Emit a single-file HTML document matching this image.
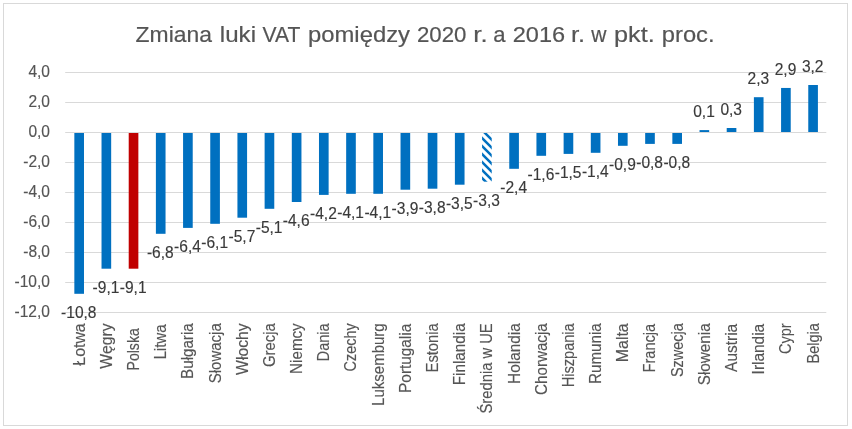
<!DOCTYPE html>
<html lang="pl"><head><meta charset="utf-8"><title>Zmiana luki VAT</title>
<style>
html,body{margin:0;padding:0;background:#fff;}
body{width:852px;height:429px;overflow:hidden;font-family:"Liberation Sans",sans-serif;}
svg{display:block;}
text{font-family:"Liberation Sans",sans-serif;}
.ax{font-size:16.0px;fill:#555;stroke:#555;stroke-width:0.15px;}
.dl{font-size:15.9px;fill:#3a3a3a;stroke:#3a3a3a;stroke-width:0.15px;}
.ay{font-size:15.9px;}
.ttl{font-size:22px;fill:#555;stroke:#555;stroke-width:0.2px;}
</style></head><body>
<svg width="852" height="429" viewBox="0 0 852 429">
<defs><pattern id="h" width="8" height="8" patternUnits="userSpaceOnUse">
<rect width="8" height="8" fill="#fff"/>
<path d="M-2,-2 L10,10 M-10,-2 L2,10 M6,-2 L18,10" stroke="#0070C0" stroke-width="2.5" fill="none"/>
</pattern></defs>
<rect x="0" y="0" width="852" height="429" fill="#fff"/>
<rect x="3.5" y="3.5" width="844" height="422" fill="#fff" stroke="#d9d9d9" stroke-width="1"/>

<line x1="65.2" x2="826.3" y1="72.5" y2="72.5" stroke="#d9d9d9" stroke-width="1"/>
<text class="ax ay" x="50" y="77.1" text-anchor="end" textLength="21.61" lengthAdjust="spacingAndGlyphs">4,0</text>
<line x1="65.2" x2="826.3" y1="102.5" y2="102.5" stroke="#d9d9d9" stroke-width="1"/>
<text class="ax ay" x="50" y="107.1" text-anchor="end" textLength="21.61" lengthAdjust="spacingAndGlyphs">2,0</text>
<line x1="65.2" x2="826.3" y1="132.5" y2="132.5" stroke="#d9d9d9" stroke-width="1"/>
<text class="ax ay" x="50" y="137.1" text-anchor="end" textLength="21.61" lengthAdjust="spacingAndGlyphs">0,0</text>
<line x1="65.2" x2="826.3" y1="162.5" y2="162.5" stroke="#d9d9d9" stroke-width="1"/>
<text class="ax ay" x="50" y="167.1" text-anchor="end" textLength="26.79" lengthAdjust="spacingAndGlyphs">-2,0</text>
<line x1="65.2" x2="826.3" y1="192.5" y2="192.5" stroke="#d9d9d9" stroke-width="1"/>
<text class="ax ay" x="50" y="197.1" text-anchor="end" textLength="26.79" lengthAdjust="spacingAndGlyphs">-4,0</text>
<line x1="65.2" x2="826.3" y1="222.5" y2="222.5" stroke="#d9d9d9" stroke-width="1"/>
<text class="ax ay" x="50" y="227.1" text-anchor="end" textLength="26.79" lengthAdjust="spacingAndGlyphs">-6,0</text>
<line x1="65.2" x2="826.3" y1="252.5" y2="252.5" stroke="#d9d9d9" stroke-width="1"/>
<text class="ax ay" x="50" y="257.1" text-anchor="end" textLength="26.79" lengthAdjust="spacingAndGlyphs">-8,0</text>
<line x1="65.2" x2="826.3" y1="282.5" y2="282.5" stroke="#d9d9d9" stroke-width="1"/>
<text class="ax ay" x="50" y="287.1" text-anchor="end" textLength="35.44" lengthAdjust="spacingAndGlyphs">-10,0</text>
<line x1="65.2" x2="826.3" y1="312.5" y2="312.5" stroke="#d9d9d9" stroke-width="1"/>
<text class="ax ay" x="50" y="317.1" text-anchor="end" textLength="35.44" lengthAdjust="spacingAndGlyphs">-12,0</text>
<text class="ttl" y="41.9"><tspan x="135.6" textLength="76.3" lengthAdjust="spacingAndGlyphs">Zmiana</tspan> <tspan x="219.8" textLength="36.2" lengthAdjust="spacingAndGlyphs">luki</tspan> <tspan x="262.5" textLength="37.5" lengthAdjust="spacingAndGlyphs">VAT</tspan> <tspan x="308.0" textLength="102.0" lengthAdjust="spacingAndGlyphs">pomiędzy</tspan> <tspan x="416.9" textLength="49.5" lengthAdjust="spacingAndGlyphs">2020</tspan> <tspan x="473.3" textLength="14.3" lengthAdjust="spacingAndGlyphs">r.</tspan> <tspan x="493.3" textLength="12.3" lengthAdjust="spacingAndGlyphs">a</tspan> <tspan x="512.7" textLength="52.4" lengthAdjust="spacingAndGlyphs">2016</tspan> <tspan x="571.0" textLength="14.0" lengthAdjust="spacingAndGlyphs">r.</tspan> <tspan x="591.2" textLength="15.2" lengthAdjust="spacingAndGlyphs">w</tspan> <tspan x="614.0" textLength="40.7" lengthAdjust="spacingAndGlyphs">pkt.</tspan> <tspan x="661.8" textLength="52.8" lengthAdjust="spacingAndGlyphs">proc.</tspan></text>
<rect x="74.34" y="133.00" width="9.65" height="160.80" fill="#0070C0"/>
<rect x="101.52" y="133.00" width="9.65" height="135.70" fill="#0070C0"/>
<rect x="128.71" y="133.00" width="9.65" height="135.70" fill="#C00000"/>
<rect x="155.89" y="133.00" width="9.65" height="100.80" fill="#0070C0"/>
<rect x="183.07" y="133.00" width="9.65" height="94.90" fill="#0070C0"/>
<rect x="210.25" y="133.00" width="9.65" height="90.80" fill="#0070C0"/>
<rect x="237.43" y="133.00" width="9.65" height="84.70" fill="#0070C0"/>
<rect x="264.62" y="133.00" width="9.65" height="75.80" fill="#0070C0"/>
<rect x="291.80" y="133.00" width="9.65" height="69.00" fill="#0070C0"/>
<rect x="318.98" y="133.00" width="9.65" height="61.90" fill="#0070C0"/>
<rect x="346.16" y="133.00" width="9.65" height="60.80" fill="#0070C0"/>
<rect x="373.34" y="133.00" width="9.65" height="60.80" fill="#0070C0"/>
<rect x="400.53" y="133.00" width="9.65" height="56.70" fill="#0070C0"/>
<rect x="427.71" y="133.00" width="9.65" height="55.70" fill="#0070C0"/>
<rect x="454.89" y="133.00" width="9.65" height="51.70" fill="#0070C0"/>
<rect x="482.07" y="133.00" width="9.65" height="48.70" fill="url(#h)"/>
<rect x="509.26" y="133.00" width="9.65" height="35.80" fill="#0070C0"/>
<rect x="536.44" y="133.00" width="9.65" height="22.80" fill="#0070C0"/>
<rect x="563.62" y="133.00" width="9.65" height="20.90" fill="#0070C0"/>
<rect x="590.80" y="133.00" width="9.65" height="19.80" fill="#0070C0"/>
<rect x="617.98" y="133.00" width="9.65" height="12.80" fill="#0070C0"/>
<rect x="645.17" y="133.00" width="9.65" height="10.90" fill="#0070C0"/>
<rect x="672.35" y="133.00" width="9.65" height="10.90" fill="#0070C0"/>
<rect x="699.53" y="130.10" width="9.65" height="1.90" fill="#0070C0"/>
<rect x="726.71" y="128.00" width="9.65" height="4.00" fill="#0070C0"/>
<rect x="753.89" y="97.20" width="9.65" height="34.80" fill="#0070C0"/>
<rect x="781.08" y="87.95" width="9.65" height="44.05" fill="#0070C0"/>
<rect x="808.26" y="85.00" width="9.65" height="47.00" fill="#0070C0"/>
<text class="dl" x="78.8" y="318.2" text-anchor="middle" textLength="35.44" lengthAdjust="spacingAndGlyphs">-10,8</text>
<text class="dl" x="106.0" y="293.1" text-anchor="middle" textLength="26.79" lengthAdjust="spacingAndGlyphs">-9,1</text>
<text class="dl" x="133.2" y="293.1" text-anchor="middle" textLength="26.79" lengthAdjust="spacingAndGlyphs">-9,1</text>
<text class="dl" x="160.3" y="258.2" text-anchor="middle" textLength="26.79" lengthAdjust="spacingAndGlyphs">-6,8</text>
<text class="dl" x="187.5" y="252.3" text-anchor="middle" textLength="26.79" lengthAdjust="spacingAndGlyphs">-6,4</text>
<text class="dl" x="214.7" y="248.2" text-anchor="middle" textLength="26.79" lengthAdjust="spacingAndGlyphs">-6,1</text>
<text class="dl" x="241.9" y="242.1" text-anchor="middle" textLength="26.79" lengthAdjust="spacingAndGlyphs">-5,7</text>
<text class="dl" x="269.1" y="233.2" text-anchor="middle" textLength="26.79" lengthAdjust="spacingAndGlyphs">-5,1</text>
<text class="dl" x="296.2" y="226.4" text-anchor="middle" textLength="26.79" lengthAdjust="spacingAndGlyphs">-4,6</text>
<text class="dl" x="323.4" y="219.3" text-anchor="middle" textLength="26.79" lengthAdjust="spacingAndGlyphs">-4,2</text>
<text class="dl" x="350.6" y="218.2" text-anchor="middle" textLength="26.79" lengthAdjust="spacingAndGlyphs">-4,1</text>
<text class="dl" x="377.8" y="218.2" text-anchor="middle" textLength="26.79" lengthAdjust="spacingAndGlyphs">-4,1</text>
<text class="dl" x="405.0" y="214.1" text-anchor="middle" textLength="26.79" lengthAdjust="spacingAndGlyphs">-3,9</text>
<text class="dl" x="432.2" y="213.1" text-anchor="middle" textLength="26.79" lengthAdjust="spacingAndGlyphs">-3,8</text>
<text class="dl" x="459.3" y="209.1" text-anchor="middle" textLength="26.79" lengthAdjust="spacingAndGlyphs">-3,5</text>
<text class="dl" x="486.5" y="206.1" text-anchor="middle" textLength="26.79" lengthAdjust="spacingAndGlyphs">-3,3</text>
<text class="dl" x="513.7" y="193.2" text-anchor="middle" textLength="26.79" lengthAdjust="spacingAndGlyphs">-2,4</text>
<text class="dl" x="540.9" y="180.2" text-anchor="middle" textLength="26.79" lengthAdjust="spacingAndGlyphs">-1,6</text>
<text class="dl" x="568.1" y="178.3" text-anchor="middle" textLength="26.79" lengthAdjust="spacingAndGlyphs">-1,5</text>
<text class="dl" x="595.3" y="177.2" text-anchor="middle" textLength="26.79" lengthAdjust="spacingAndGlyphs">-1,4</text>
<text class="dl" x="622.4" y="170.2" text-anchor="middle" textLength="26.79" lengthAdjust="spacingAndGlyphs">-0,9</text>
<text class="dl" x="649.6" y="168.3" text-anchor="middle" textLength="26.79" lengthAdjust="spacingAndGlyphs">-0,8</text>
<text class="dl" x="676.8" y="168.3" text-anchor="middle" textLength="26.79" lengthAdjust="spacingAndGlyphs">-0,8</text>
<text class="dl" x="704.0" y="117.3" text-anchor="middle" textLength="21.61" lengthAdjust="spacingAndGlyphs">0,1</text>
<text class="dl" x="731.2" y="115.2" text-anchor="middle" textLength="21.61" lengthAdjust="spacingAndGlyphs">0,3</text>
<text class="dl" x="758.3" y="84.4" text-anchor="middle" textLength="21.61" lengthAdjust="spacingAndGlyphs">2,3</text>
<text class="dl" x="785.5" y="75.2" text-anchor="middle" textLength="21.61" lengthAdjust="spacingAndGlyphs">2,9</text>
<text class="dl" x="812.7" y="72.2" text-anchor="middle" textLength="21.61" lengthAdjust="spacingAndGlyphs">3,2</text>
<text class="ax" transform="translate(84.6,323.3) rotate(-90)" text-anchor="end" textLength="42.4" lengthAdjust="spacingAndGlyphs">Łotwa</text>
<text class="ax" transform="translate(111.8,323.3) rotate(-90)" text-anchor="end" textLength="45.5" lengthAdjust="spacingAndGlyphs">Węgry</text>
<text class="ax" transform="translate(139.0,328.3) rotate(-90)" text-anchor="end" textLength="42.1" lengthAdjust="spacingAndGlyphs">Polska</text>
<text class="ax" transform="translate(166.1,324.3) rotate(-90)" text-anchor="end" textLength="35.3" lengthAdjust="spacingAndGlyphs">Litwa</text>
<text class="ax" transform="translate(193.3,323.3) rotate(-90)" text-anchor="end" textLength="55.6" lengthAdjust="spacingAndGlyphs">Bułgaria</text>
<text class="ax" transform="translate(220.5,323.3) rotate(-90)" text-anchor="end" textLength="59.9" lengthAdjust="spacingAndGlyphs">Słowacja</text>
<text class="ax" transform="translate(247.7,323.3) rotate(-90)" text-anchor="end" textLength="51.6" lengthAdjust="spacingAndGlyphs">Włochy</text>
<text class="ax" transform="translate(274.9,323.3) rotate(-90)" text-anchor="end" textLength="43.6" lengthAdjust="spacingAndGlyphs">Grecja</text>
<text class="ax" transform="translate(302.0,323.3) rotate(-90)" text-anchor="end" textLength="50.6" lengthAdjust="spacingAndGlyphs">Niemcy</text>
<text class="ax" transform="translate(329.2,323.3) rotate(-90)" text-anchor="end" textLength="38.1" lengthAdjust="spacingAndGlyphs">Dania</text>
<text class="ax" transform="translate(356.4,323.3) rotate(-90)" text-anchor="end" textLength="48.1" lengthAdjust="spacingAndGlyphs">Czechy</text>
<text class="ax" transform="translate(383.6,323.3) rotate(-90)" text-anchor="end" textLength="82.6" lengthAdjust="spacingAndGlyphs">Luksemburg</text>
<text class="ax" transform="translate(410.8,323.8) rotate(-90)" text-anchor="end" textLength="69.1" lengthAdjust="spacingAndGlyphs">Portugalia</text>
<text class="ax" transform="translate(438.0,323.3) rotate(-90)" text-anchor="end" textLength="49.1" lengthAdjust="spacingAndGlyphs">Estonia</text>
<text class="ax" transform="translate(465.1,323.3) rotate(-90)" text-anchor="end" textLength="62.0" lengthAdjust="spacingAndGlyphs">Finlandia</text>
<text class="ax" transform="translate(492.3,323.3) rotate(-90)" text-anchor="end" textLength="90.2" lengthAdjust="spacingAndGlyphs">Średnia w UE</text>
<text class="ax" transform="translate(519.5,323.3) rotate(-90)" text-anchor="end" textLength="60.6" lengthAdjust="spacingAndGlyphs">Holandia</text>
<text class="ax" transform="translate(546.7,323.3) rotate(-90)" text-anchor="end" textLength="71.6" lengthAdjust="spacingAndGlyphs">Chorwacja</text>
<text class="ax" transform="translate(573.9,323.3) rotate(-90)" text-anchor="end" textLength="64.0" lengthAdjust="spacingAndGlyphs">Hiszpania</text>
<text class="ax" transform="translate(601.1,323.3) rotate(-90)" text-anchor="end" textLength="60.6" lengthAdjust="spacingAndGlyphs">Rumunia</text>
<text class="ax" transform="translate(628.2,323.3) rotate(-90)" text-anchor="end" textLength="38.9" lengthAdjust="spacingAndGlyphs">Malta</text>
<text class="ax" transform="translate(655.4,323.8) rotate(-90)" text-anchor="end" textLength="48.6" lengthAdjust="spacingAndGlyphs">Francja</text>
<text class="ax" transform="translate(682.6,323.3) rotate(-90)" text-anchor="end" textLength="53.8" lengthAdjust="spacingAndGlyphs">Szwecja</text>
<text class="ax" transform="translate(709.8,323.3) rotate(-90)" text-anchor="end" textLength="62.0" lengthAdjust="spacingAndGlyphs">Słowenia</text>
<text class="ax" transform="translate(737.0,323.8) rotate(-90)" text-anchor="end" textLength="48.1" lengthAdjust="spacingAndGlyphs">Austria</text>
<text class="ax" transform="translate(764.1,323.8) rotate(-90)" text-anchor="end" textLength="50.6" lengthAdjust="spacingAndGlyphs">Irlandia</text>
<text class="ax" transform="translate(791.3,323.3) rotate(-90)" text-anchor="end" textLength="30.8" lengthAdjust="spacingAndGlyphs">Cypr</text>
<text class="ax" transform="translate(818.5,323.3) rotate(-90)" text-anchor="end" textLength="40.2" lengthAdjust="spacingAndGlyphs">Belgia</text>
</svg></body></html>
